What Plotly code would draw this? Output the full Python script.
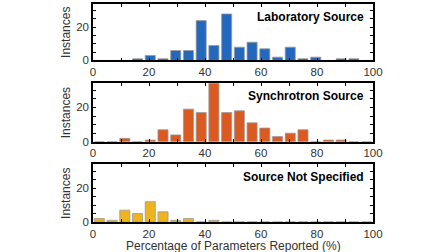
import plotly.graph_objects as go
from plotly.subplots import make_subplots

bin_centers = [2.27, 6.82, 11.36, 15.91, 20.45, 25.0, 29.55, 34.09, 38.64, 43.18, 47.73,
               52.27, 56.82, 61.36, 65.91, 70.45, 75.0, 79.55, 84.09, 88.64, 93.18, 97.73]
lab_counts = [0, 0, 0, 1, 3, 1, 6, 6, 24, 9, 28, 8, 11, 7, 2, 8, 1, 2, 0, 1, 1, 0]
syn_counts = [0, 0, 2, 0, 1, 7, 4, 19, 17, 35, 17, 18, 11, 8, 3, 5, 7, 0, 1, 1, 0, 0]
uns_counts = [2, 1, 7, 5, 12, 6, 1, 2, 0, 1, 0, 0, 0, 0, 0, 0, 0, 0, 0, 0, 0, 0]
panel_titles = ["Laboratory Source", "Synchrotron Source", "Source Not Specified"]
colors = ["#2468BE", "#DA5A22", "#EDB41E"]
x_ticks = [0, 20, 40, 60, 80, 100]
y_ticks = [0, 20]

fig = make_subplots(rows=3, cols=1, vertical_spacing=0.1)
series = [lab_counts, syn_counts, uns_counts]
domains = [[0.741, 1.0], [0.368, 0.636], [0.0, 0.264]]
font = "Liberation Sans, Arial, sans-serif"

for i, (vals, col, title) in enumerate(zip(series, colors, panel_titles)):
    r = i + 1
    fig.add_trace(go.Bar(x=bin_centers, y=vals, marker=dict(color=col, line=dict(color="#9a9a9a", width=0.8)),
                         width=3.6, showlegend=False, hoverinfo="skip"), row=r, col=1)
    xa = "xaxis" if i == 0 else f"xaxis{r}"
    ya = "yaxis" if i == 0 else f"yaxis{r}"
    fig.layout[xa].update(range=[0, 100], tickvals=x_ticks, ticks="inside", ticklen=3, tickwidth=1,
                          tickcolor="black", showline=True, linecolor="black", linewidth=1.5, mirror="allticks",
                          showgrid=False, zeroline=False,
                          minor=dict(dtick=10, tick0=0, ticks="inside", ticklen=3, tickcolor="black", showgrid=False),
                          tickfont=dict(size=11.5, color="#333333", family=font))
    fig.layout[ya].update(range=[0, 34], domain=domains[i], tickvals=y_ticks, ticks="inside", ticklen=3, tickwidth=1,
                          tickcolor="black", showline=True, linecolor="black", linewidth=1.5, mirror="allticks",
                          showgrid=False, zeroline=False,
                          minor=dict(dtick=5, tick0=0, ticks="inside", ticklen=3, tickcolor="black", showgrid=False),
                          tickfont=dict(size=11.5, color="#333333", family=font),
                          title=dict(text="Instances", font=dict(size=12, color="#333333", family=font), standoff=3))
    fig.add_annotation(text=f"<b>{title}</b>", xref=f"x{'' if i == 0 else r} domain", yref=f"y{'' if i == 0 else r} domain",
                       x=0.975, y=0.93, xanchor="right", yanchor="top", showarrow=False,
                       font=dict(size=12, color="black", family=font))

fig.add_annotation(text="Percentage of Parameters Reported (%)", xref="paper", yref="paper",
                   x=0.5, y=-0.11, xanchor="center", yanchor="middle", showarrow=False,
                   font=dict(size=12, color="#333333", family=font))

fig.update_layout(width=448, height=252, margin=dict(l=93, r=75, t=2, b=30),
                  plot_bgcolor="white", paper_bgcolor="white", bargap=0.2, hovermode=False)
fig.write_html("out.html", config={"displayModeBar": False},
               post_script="document.body.style.margin='0';document.body.style.overflow='hidden';")
